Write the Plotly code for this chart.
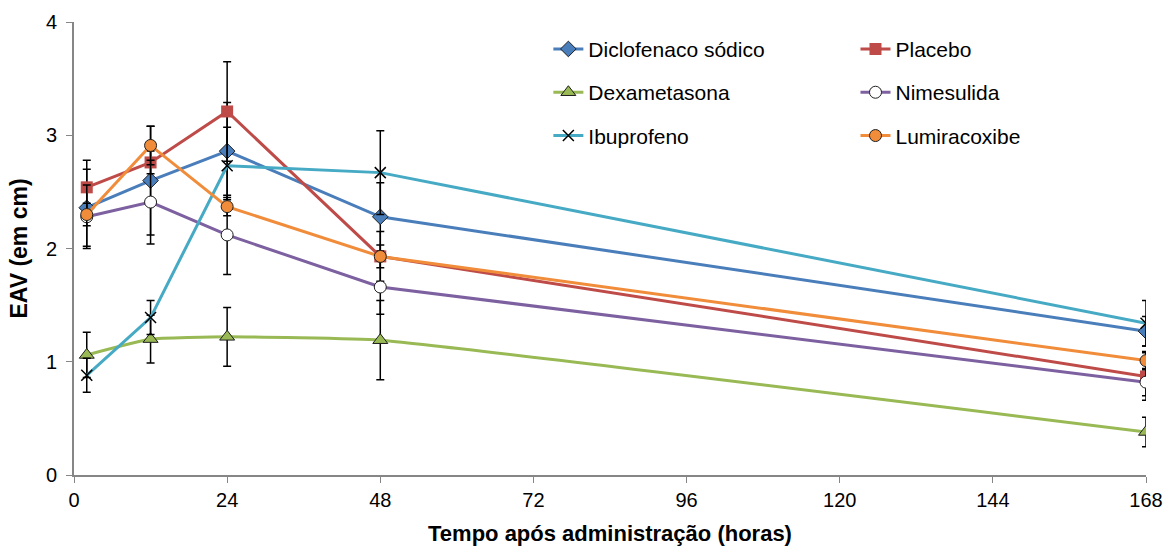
import plotly.graph_objects as go

horas = [2, 12, 24, 48, 168]

series_names = ["Diclofenaco sódico", "Placebo", "Dexametasona", "Nimesulida", "Ibuprofeno", "Lumiracoxibe"]

diclofenaco = [2.36, 2.60, 2.86, 2.28, 1.27]
diclofenaco_err = [0.34, 0.48, 0.43, 0.30, 0.13]

placebo = [2.54, 2.76, 3.21, 1.93, 0.87]
placebo_err = [0.24, 0.10, 0.44, 0.22, 0.21]

dexametasona = [1.06, 1.20, 1.22, 1.19, 0.38]
dexametasona_err = [0.20, 0.21, 0.26, 0.35, 0.13]

nimesulida = [2.28, 2.41, 2.12, 1.66, 0.82]
nimesulida_err = [0.28, 0.37, 0.35, 0.24, 0.12]

ibuprofeno = [0.88, 1.39, 2.73, 2.67, 1.34]
ibuprofeno_err = [0.15, 0.15, 0.34, 0.37, 0.20]

lumiracoxibe = [2.30, 2.91, 2.37, 1.93, 1.01]
lumiracoxibe_err = [0.10, 0.17, 0.08, 0.10, 0.08]

x_ticks = [0, 24, 48, 72, 96, 120, 144, 168]
y_ticks = [0, 1, 2, 3, 4]

styles = [
    dict(color="#4A7EBB", symbol="diamond", msize=12, mfill="#4A7EBB", mline="#1F1F1F", mlw=1, shape="linear", legend="legend"),
    dict(color="#BE4B48", symbol="square", msize=12, mfill="#BE4B48", mline="#BE4B48", mlw=0, shape="linear", legend="legend2"),
    dict(color="#98B954", symbol="triangle-up", msize=13, mfill="#98B954", mline="#1F1F1F", mlw=1, shape="spline", legend="legend"),
    dict(color="#7D60A0", symbol="circle", msize=12, mfill="#FFFFFF", mline="#1F1F1F", mlw=1, shape="linear", legend="legend2"),
    dict(color="#46AAC5", symbol="x-thin", msize=11, mfill="#000000", mline="#000000", mlw=1.5, shape="linear", legend="legend"),
    dict(color="#F08C3A", symbol="circle", msize=12, mfill="#F08C3A", mline="#1F1F1F", mlw=1, shape="linear", legend="legend2"),
]

values = [diclofenaco, placebo, dexametasona, nimesulida, ibuprofeno, lumiracoxibe]
errors = [diclofenaco_err, placebo_err, dexametasona_err, nimesulida_err, ibuprofeno_err, lumiracoxibe_err]

fig = go.Figure()
for name, y, e, s in zip(series_names, values, errors, styles):
    fig.add_trace(go.Scatter(
        x=horas, y=y, name=name, mode="lines+markers",
        line=dict(color=s["color"], width=3, shape=s["shape"], smoothing=0.35),
        marker=dict(symbol=s["symbol"], size=s["msize"], color=s["mfill"],
                    line=dict(color=s["mline"], width=s["mlw"])),
        error_y=dict(type="data", array=e, color="black", thickness=1.5, width=4),
        legend=s["legend"], legendgroup=name,
    ))

legend_common = dict(
    font=dict(family="Liberation Sans, Arial, sans-serif", size=21, color="#000000"),
    bgcolor="rgba(0,0,0,0)", itemwidth=30, tracegroupgap=13,
    yanchor="top", xanchor="left", traceorder="grouped",
)

fig.update_layout(
    width=1175, height=550,
    margin=dict(l=74, r=29, t=22, b=75),
    plot_bgcolor="white", paper_bgcolor="white",
    font=dict(family="Liberation Sans, Arial, sans-serif", size=20, color="#000000"),
    legend=dict(x=0.4425, y=0.985, **legend_common),
    legend2=dict(x=0.729, y=0.985, **legend_common),
    xaxis=dict(
        range=[0, 168], tickvals=x_ticks, ticktext=[str(t) for t in x_ticks],
        showgrid=False, zeroline=False, showline=True, linecolor="#868686", linewidth=2,
        ticks="outside", ticklen=6, tickcolor="#868686", tickwidth=1,
        tickfont=dict(size=20), automargin=False,
        title=dict(text="<b>Tempo após administração (horas)</b>", font=dict(size=22), standoff=16),
    ),
    yaxis=dict(
        range=[0, 4], tickvals=y_ticks,
        showgrid=False, zeroline=False, showline=True, linecolor="#868686", linewidth=2,
        ticks="outside", ticklen=6, tickcolor="#868686", tickwidth=1,
        tickfont=dict(size=20), ticklabelstandoff=5, automargin=False,
        title=dict(text="<b>EAV (em cm)</b>", font=dict(size=23), standoff=12),
    ),
)

fig.write_html("out.html")
